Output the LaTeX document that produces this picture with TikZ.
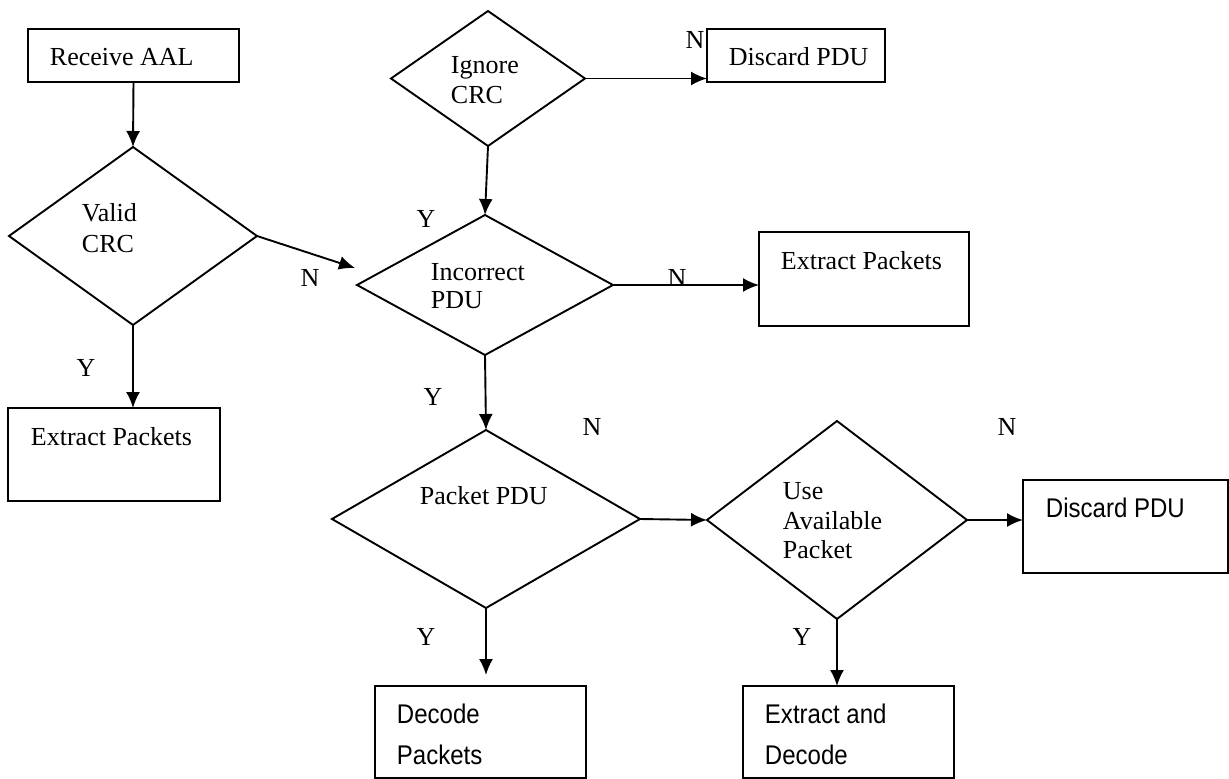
\documentclass[tikz,border=0pt]{standalone}
\usepackage{fontspec}
\setmainfont{Liberation Serif}
\newfontfamily\narrowsans[FakeStretch=0.89]{Liberation Sans}
\usepackage{tikz}
\usetikzlibrary{shapes.geometric,arrows.meta}

\begin{document}
\begin{tikzpicture}[x=1pt,y=-1pt,>={Latex[length=16pt,width=14pt]},line width=1.9pt,
        box/.style={draw,rectangle,anchor=north west,inner sep=0pt,outer sep=0pt},
        dec/.style={draw,diamond,inner sep=0pt,outer sep=0pt},
        txt/.style={anchor=west,inner sep=0pt,align=left,font=\fontsize{26}{31}\selectfont},
        sanstxt/.style={anchor=west,inner sep=0pt,align=left,font=\narrowsans\fontsize{27}{41}\selectfont},
        yn/.style={inner sep=0pt,font=\fontsize{26}{31}\selectfont}]
        \useasboundingbox (0,0) rectangle (1229,779);

        % boxes
        \node[box,minimum width=211pt,minimum height=53pt] (aal) at (28,29) {};
        \node[box,minimum width=178pt,minimum height=53pt] (discA) at (707,29) {};
        \node[box,minimum width=212pt,minimum height=93pt] (extrA) at (8,408) {};
        \node[box,minimum width=210pt,minimum height=94pt] (extrB) at (759,232) {};
        \node[box,minimum width=211pt,minimum height=92pt] (decode) at (375,686) {};
        \node[box,minimum width=211pt,minimum height=92pt] (extdec) at (743,686) {};
        \node[box,minimum width=205pt,minimum height=93pt] (discB) at (1023,480) {};

        % decisions
        \node[dec,minimum width=248pt,minimum height=178pt] (valid) at (133,236) {};
        \node[dec,minimum width=194pt,minimum height=135pt] (ignore) at (488,78.5) {};
        \node[dec,minimum width=256pt,minimum height=140pt] (incorrect) at (485,285) {};
        \node[dec,minimum width=308pt,minimum height=178pt] (packet) at (486,519) {};
        \node[dec,minimum width=260pt,minimum height=198pt] (use) at (837,520) {};

        % texts
        \node[txt] (t-aal) at (49,57) {Receive AAL};
        \node[txt] (t-discA) at (728,57) {Discard PDU};
        \node[txt] (t-extrA) at (30,437) {Extract Packets};
        \node[txt] (t-extrB) at (780,261) {Extract Packets};
        \node[txt] (t-valid) at (81,228) {Valid\\CRC};
        \node[txt,font=\fontsize{26}{30}\selectfont] (t-ignore) at (450,80) {Ignore\\CRC};
        \node[txt,font=\fontsize{26}{28}\selectfont] (t-incorrect) at (430,286) {Incorrect\\PDU};
        \node[txt] (t-packet) at (419,496) {Packet PDU};
        \node[txt,font=\fontsize{26}{29.5}\selectfont] (t-use) at (782,521) {Use\\Available\\Packet};
        \node[sanstxt] (t-decode) at (396,734) {Decode\\Packets};
        \node[sanstxt] (t-extdec) at (764,734) {Extract and\\Decode};
        \node[sanstxt] (t-discB) at (1045,508) {Discard PDU};

        % Y / N
        \node[yn] (n1) at (695,40) {N};
        \node[yn] (n2) at (310,278) {N};
        \node[yn] (y1) at (86,368) {Y};
        \node[yn] (y2) at (426,219) {Y};
        \node[yn] (n3) at (677,278) {N};
        \node[yn] (y3) at (433,397) {Y};
        \node[yn] (n4) at (592,427) {N};
        \node[yn] (y4) at (426,637) {Y};
        \node[yn] (n5) at (1007,427) {N};
        \node[yn] (y5) at (802,637) {Y};

        \draw[->] (aal.south) -- (valid.north);
        \draw[->] (valid.east) -- ([shift={(-2,-17)}]incorrect.west);
        \draw[->] (valid.south) -- (valid.south |- extrA.north);
        \draw[->] (ignore.east) -- (ignore.east -| discA.west);
        \draw[->] (ignore.south) -- (incorrect.north);
        \draw[->] (incorrect.east) -- (incorrect.east -| extrB.west);
        \draw[->] (incorrect.south) -- (packet.north);
        \draw[->] (packet.east) -- (use.west);
        \draw[->] (use.east) -- (use.east -| discB.west);
        \draw[->,shorten >=11pt] (packet.south) -- (packet.south |- decode.north);
        \draw[->] (use.south) -- (use.south |- extdec.north);
\end{tikzpicture}
\end{document}
